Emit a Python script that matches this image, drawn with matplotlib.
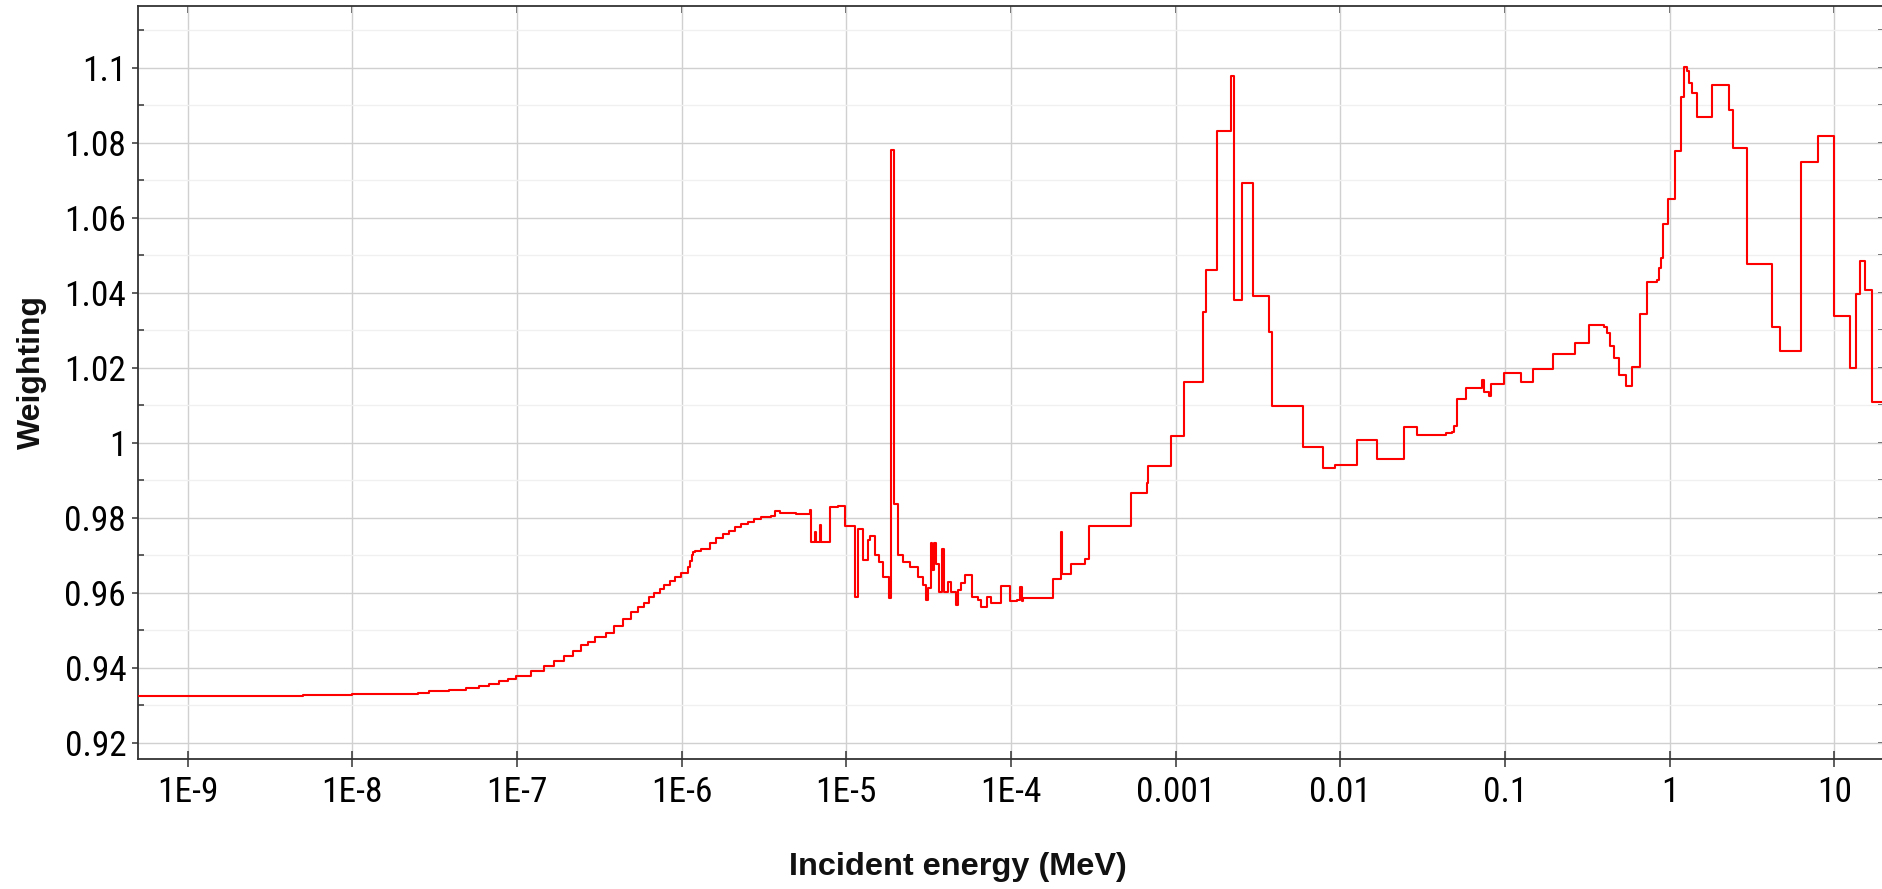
import matplotlib
matplotlib.use("Agg")
import matplotlib.pyplot as plt
from matplotlib import font_manager as fm
from matplotlib.ticker import FixedLocator, FixedFormatter, MultipleLocator, FuncFormatter, NullLocator

# ---------------- data ----------------
energy_edges = [
    5e-10, 2e-9, 5e-9, 1.0e-8, 2.5e-8, 2.94e-8, 3.89e-8, 4.91e-8, 5.92e-8, 6.80e-8,
    7.82e-8, 8.79e-8, 9.88e-8, 1.22e-7, 1.47e-7, 1.69e-7, 1.94e-7, 2.18e-7, 2.45e-7, 2.69e-7,
    2.96e-7, 3.48e-7, 3.91e-7, 4.40e-7, 4.94e-7, 5.42e-7, 5.95e-7, 6.38e-7, 6.84e-7, 7.34e-7,
    7.87e-7, 8.45e-7, 9.06e-7, 9.95e-7, 1.09e-6, 1.12e-6, 1.15e-6, 1.18e-6, 1.20e-6, 1.32e-6,
    1.48e-6, 1.62e-6, 1.78e-6, 1.95e-6, 2.10e-6, 2.30e-6, 2.52e-6, 2.77e-6, 3.05e-6, 3.50e-6,
    3.67e-6, 3.93e-6, 4.74e-6, 4.97e-6, 5.98e-6, 6.12e-6, 6.41e-6, 6.57e-6, 6.89e-6, 7.05e-6,
    7.91e-6, 8.89e-6, 9.86e-6, 1.122e-5, 1.175e-5, 1.26e-5, 1.35e-5, 1.40e-5, 1.49e-5, 1.58e-5,
    1.67e-5, 1.82e-5, 1.86e-5, 1.96e-5, 2.06e-5, 2.21e-5, 2.43e-5, 2.72e-5, 2.92e-5, 3.06e-5,
    3.13e-5, 3.28e-5, 3.33e-5, 3.39e-5, 3.49e-5, 3.66e-5, 3.83e-5, 3.92e-5, 4.14e-5, 4.35e-5,
    4.61e-5, 4.76e-5, 5.00e-5, 5.24e-5, 5.83e-5, 6.31e-5, 6.61e-5, 7.10e-5, 7.60e-5, 8.75e-5,
    9.82e-5, 1.08e-4, 1.13e-4, 1.16e-4, 1.18e-4, 1.80e-4, 2.02e-4, 2.05e-4, 2.33e-4, 2.81e-4,
    2.98e-4, 5.38e-4, 6.65e-4, 6.75e-4, 9.33e-4, 1.12e-3, 1.47e-3, 1.52e-3, 1.77e-3, 2.18e-3,
    2.25e-3, 2.53e-3, 2.95e-3, 3.68e-3, 3.82e-3, 5.89e-3, 7.87e-3, 9.27e-3, 1.268e-2, 1.667e-2,
    2.445e-2, 2.937e-2, 4.363e-2, 4.777e-2, 4.928e-2, 5.14e-2, 5.83e-2, 7.23e-2, 7.40e-2, 8.02e-2,
    8.26e-2, 9.91e-2, 0.125, 0.147, 0.196, 0.266, 0.325, 0.397, 0.414, 0.431,
    0.459, 0.489, 0.541, 0.588, 0.663, 0.731, 0.834, 0.855, 0.882, 0.904,
    0.980, 1.077, 1.171, 1.221, 1.279, 1.315, 1.360, 1.459, 1.815, 2.29,
    2.41, 2.94, 4.20, 4.68, 6.28, 8.00, 10.0, 12.5, 13.5, 14.3,
    15.4, 16.9, 20.0,
]

weighting = [
    0.9324, 0.9325, 0.9327, 0.9330, 0.9334, 0.9338, 0.9342, 0.9347, 0.9352, 0.9358,
    0.9364, 0.9369, 0.9379, 0.9392, 0.9405, 0.9418, 0.9431, 0.9445, 0.9460, 0.9470,
    0.9481, 0.9493, 0.9512, 0.9531, 0.9548, 0.9562, 0.9574, 0.9588, 0.9600, 0.9611,
    0.9621, 0.9632, 0.9642, 0.9653, 0.9668, 0.9685, 0.9700, 0.9708, 0.9711, 0.9718,
    0.9733, 0.9745, 0.9757, 0.9766, 0.9776, 0.9783, 0.9790, 0.9797, 0.9801, 0.9805,
    0.9819, 0.9812, 0.9814, 0.9809, 0.9820, 0.9736, 0.9763, 0.9736, 0.9781, 0.9736,
    0.9829, 0.9832, 0.9778, 0.9589, 0.9769, 0.9687, 0.9741, 0.9751, 0.9701, 0.9683,
    0.9643, 0.9585, 1.0781, 0.9838, 0.9701, 0.9683, 0.9669, 0.9643, 0.9621, 0.9581,
    0.9612, 0.9732, 0.9661, 0.9733, 0.9678, 0.9603, 0.9718, 0.9603, 0.9629, 0.9603,
    0.9567, 0.9607, 0.9625, 0.9647, 0.9589, 0.9581, 0.9563, 0.9589, 0.9573, 0.9618,
    0.9579, 0.9582, 0.9616, 0.9579, 0.9585, 0.9636, 0.9763, 0.9649, 0.9677, 0.9690,
    0.9778, 0.9865, 0.9892, 0.9938, 1.0018, 1.0163, 1.0349, 1.0461, 1.0832, 1.0978,
    1.0381, 1.0692, 1.0391, 1.0296, 1.0098, 0.9989, 0.9932, 0.9941, 1.0007, 0.9956,
    1.0043, 1.0021, 1.0025, 1.0029, 1.0045, 1.0116, 1.0145, 1.0167, 1.0136, 1.0125,
    1.0158, 1.0185, 1.0163, 1.0198, 1.0237, 1.0267, 1.0314, 1.0309, 1.0293, 1.0258,
    1.0227, 1.0182, 1.0152, 1.0203, 1.0343, 1.0428, 1.0434, 1.0465, 1.0492, 1.0583,
    1.0650, 1.0778, 1.0923, 1.1001, 1.0992, 1.0960, 1.0932, 1.0869, 1.0954, 1.0887,
    1.0785, 1.0478, 1.0309, 1.0245, 1.0749, 1.0818, 1.0338, 1.0200, 1.0397, 1.0485,
    1.0407, 1.0108,
]

x_tick_values = [1e-9, 1e-8, 1e-7, 1e-6, 1e-5, 1e-4, 1e-3, 1e-2, 1e-1, 1, 10]
x_tick_labels = ["1E-9", "1E-8", "1E-7", "1E-6", "1E-5", "1E-4", "0.001", "0.01", "0.1", "1", "10"]
y_tick_values = [0.92, 0.94, 0.96, 0.98, 1.00, 1.02, 1.04, 1.06, 1.08, 1.10]
x_label = "Incident energy (MeV)"
y_label = "Weighting"

# ---------------- fonts ----------------
names = {f.name for f in fm.fontManager.ttflist}
narrow = None
for cand in ["Liberation Sans Narrow", "Arial Narrow", "Roboto Condensed", "Open Sans Condensed"]:
    if cand in names:
        narrow = fm.FontProperties(family=cand, size=25.5)
        break
if narrow is None:
    cond = [f for f in fm.fontManager.ttflist if "DejaVuSansCondensed.ttf" in f.fname]
    if cond:
        narrow = fm.FontProperties(fname=cond[0].fname, size=25)
    else:
        narrow = fm.FontProperties(family="Liberation Sans", size=22)
bold_family = "Liberation Sans" if "Liberation Sans" in names else "DejaVu Sans"

# ---------------- figure ----------------
W, H = 1882, 889
fig = plt.figure(figsize=(W / 100, H / 100), dpi=100)
x0, x1 = 138 / W, 1884 / W
y0, y1 = 1 - 759.3 / H, 1 - 6 / H
ax = fig.add_axes([x0, y0, x1 - x0, y1 - y0])

edges = energy_edges
vals = weighting + [weighting[-1]]
ax.step(edges, vals, where="post", color="#ff0000", lw=1.5, zorder=3)

ax.set_xscale("log")
ax.set_xlim(5e-10, 20)
ax.set_ylim(0.9156, 1.1165)

ax.xaxis.set_major_locator(FixedLocator(x_tick_values))
ax.xaxis.set_major_formatter(FixedFormatter(x_tick_labels))
ax.xaxis.set_minor_locator(NullLocator())
ax.yaxis.set_major_locator(FixedLocator(y_tick_values))
ax.yaxis.set_major_formatter(FuncFormatter(lambda v, p: "%g" % round(v, 3)))
ax.yaxis.set_minor_locator(MultipleLocator(0.01))

ax.grid(True, which="major", axis="both", color="#d0d0d0", lw=1.0, zorder=0)
ax.grid(True, which="minor", axis="y", color="#f0f0f0", lw=1.0, zorder=0)
ax.set_axisbelow(True)

spine_c = "#333333"
for s in ["left", "bottom", "top"]:
    ax.spines[s].set_color(spine_c)
    ax.spines[s].set_linewidth(1.3)
ax.spines["right"].set_visible(False)

ax.tick_params(axis="x", which="major", direction="inout", length=12, width=1.1,
               color=spine_c, pad=6, top=False)
ax.tick_params(axis="y", which="major", direction="out", length=4.5, width=1.1,
               color=spine_c, pad=4, right=False)
ax.tick_params(axis="y", which="minor", direction="in", length=4.5, width=1.1,
               color=spine_c, right=False)
for lab in ax.get_xticklabels() + ax.get_yticklabels():
    lab.set_fontproperties(narrow)
    lab.set_color("#000000")

# top and right inward ticks
secx = ax.secondary_xaxis("top")
secx.xaxis.set_major_locator(FixedLocator(x_tick_values))
secx.xaxis.set_minor_locator(NullLocator())
secx.tick_params(axis="x", which="major", direction="in", length=5, width=1.1,
                 color=spine_c, labeltop=False)
secx.spines["top"].set_visible(False)

secy = ax.secondary_yaxis("right")
secy.yaxis.set_major_locator(FixedLocator(y_tick_values))
secy.yaxis.set_minor_locator(MultipleLocator(0.01))
secy.tick_params(axis="y", which="both", direction="in", length=4.5, width=1.1,
                 color=spine_c, labelright=False)
secy.spines["right"].set_visible(False)

ax.set_xlabel(x_label, fontsize=23.4, fontweight="bold", family=bold_family, color="#111111")
ax.xaxis.label.set_va("baseline")
ax.xaxis.set_label_coords((958 - 138) / 1746, (759.3 - 875) / 753.3)

ax.set_ylabel(y_label, fontsize=23, fontweight="bold", family=bold_family, color="#111111")
ax.yaxis.label.set_va("center")
ax.yaxis.set_label_coords((32 - 138) / 1746, (759.3 - 372) / 753.3)

fig.savefig("out.png", dpi=100, facecolor="white")
